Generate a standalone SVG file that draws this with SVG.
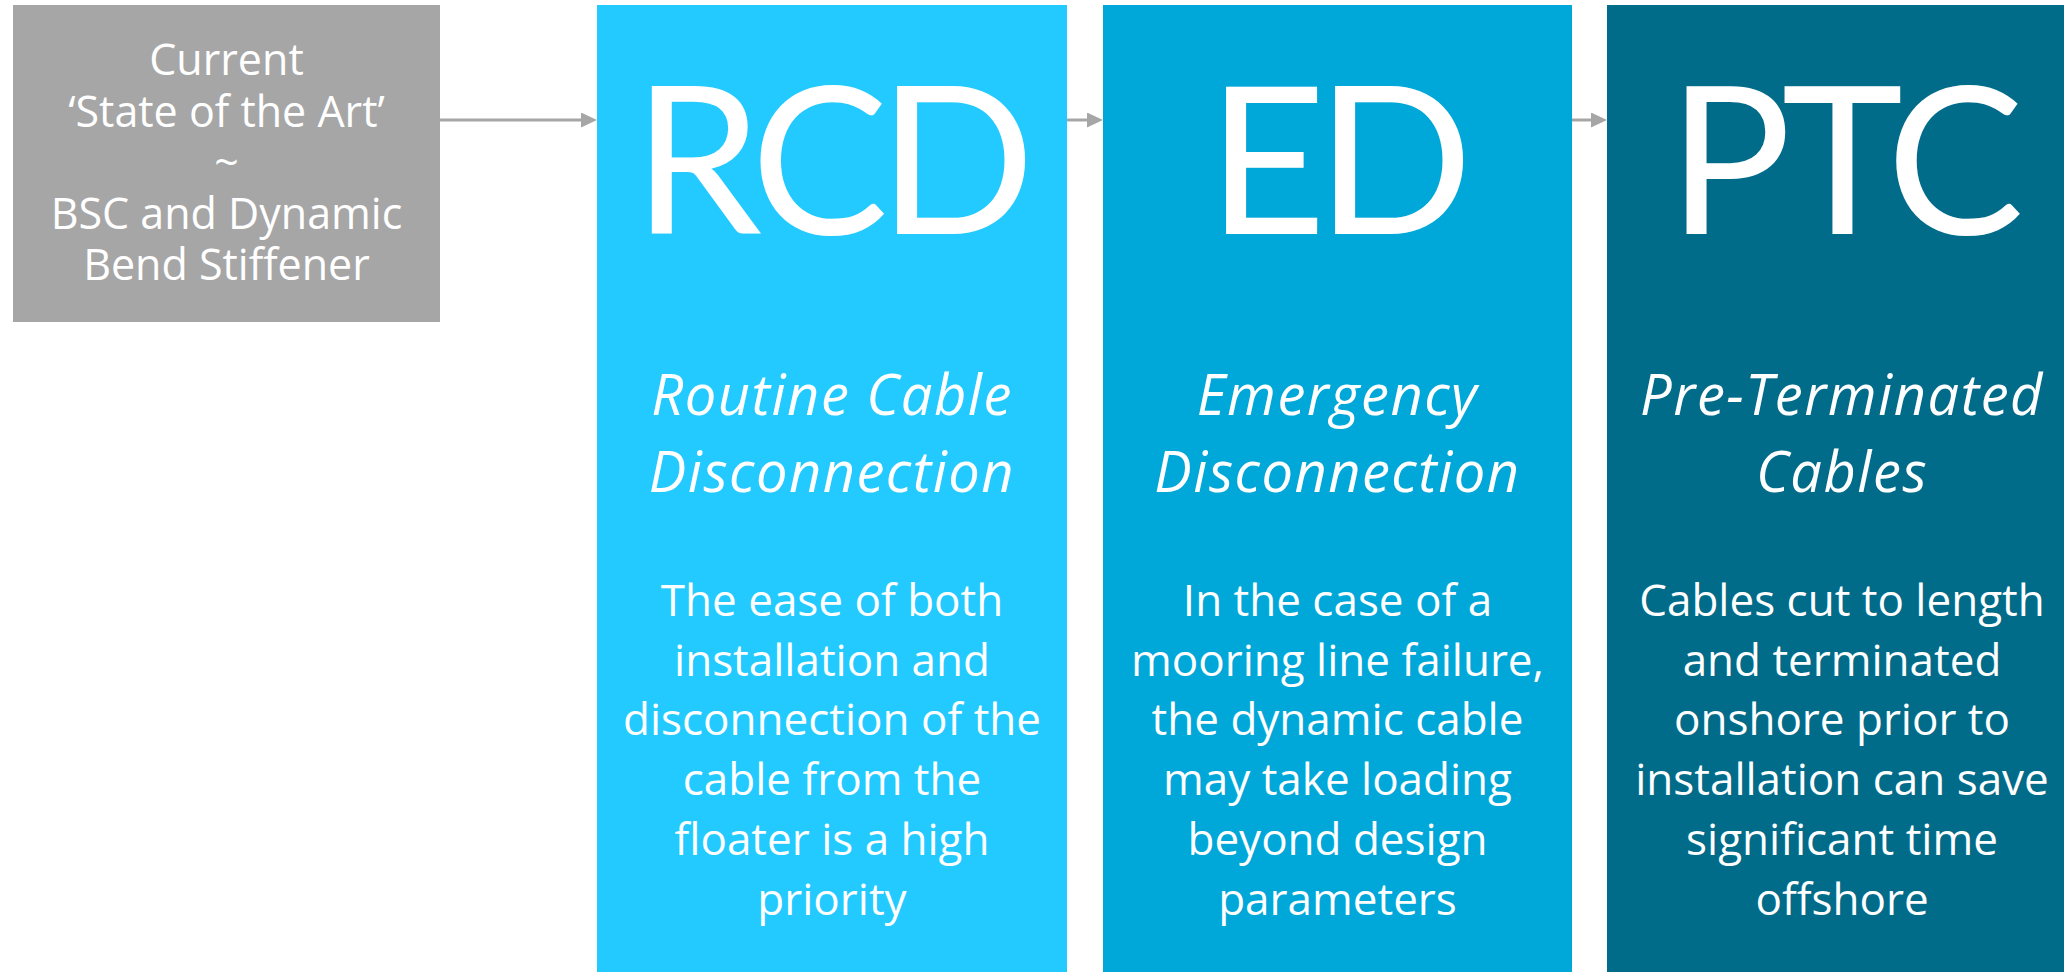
<svg xmlns="http://www.w3.org/2000/svg" width="2064" height="972" viewBox="0 0 2064 972">
  <style>
    .bg { fill: #ffffff; }
    .box-grey { fill: #a6a6a6; }
    .col-rcd { fill: #22caff; }
    .col-ed { fill: #00a7d9; }
    .col-ptc { fill: #016b8a; }
    text { fill: #ffffff; text-anchor: middle; }
    .intro { font-family: "Open Sans", "Noto Sans", sans-serif; font-size: 43px; }
    .acronym { font-family: Lato, "Open Sans", sans-serif; font-size: 206px; letter-spacing: -10px; }
    .title { font-family: "Open Sans", "Noto Sans", sans-serif; font-size: 56px; font-style: italic; letter-spacing: 1.5px; }
    .body { font-family: "Open Sans", "Noto Sans", sans-serif; font-size: 44px; }
    .link { stroke: #a6a6a6; stroke-width: 3; fill: none; marker-end: url(#head); }
  </style>
  <defs>
    <marker id="head" markerUnits="userSpaceOnUse" viewBox="0 0 16 15" markerWidth="16" markerHeight="15" refX="2" refY="7.5" orient="auto">
      <path d="M0,0 L16,7.5 L0,15 Z" fill="#a6a6a6"/>
    </marker>
  </defs>

  <rect class="bg" x="0" y="0" width="2064" height="972"/>

  <!-- starting point: existing technology -->
  <g id="state-of-the-art">
    <rect class="box-grey" x="13" y="5" width="427" height="317"/>
    <text class="intro"><tspan x="226.5" y="75">Current</tspan><tspan x="226.5" y="127">‘State of the Art’</tspan><tspan x="226.5" y="178">~</tspan><tspan x="226.5" y="229">BSC and Dynamic</tspan><tspan x="226.5" y="280">Bend Stiffener</tspan></text>
  </g>

  <!-- Routine Cable Disconnection -->
  <g id="rcd">
    <rect class="col-rcd" x="597" y="5" width="470" height="967"/>
    <text class="acronym" x="829" y="234">RCD</text>
    <text class="title"><tspan x="832" y="415">Routine Cable</tspan><tspan x="832" y="492">Disconnection</tspan></text>
    <text class="body"><tspan x="832" y="616">The ease of both</tspan><tspan x="832" y="676">installation and</tspan><tspan x="832" y="735">disconnection of the</tspan><tspan x="832" y="795">cable from the</tspan><tspan x="832" y="855">floater is a high</tspan><tspan x="832" y="915">priority</tspan></text>
  </g>

  <!-- Emergency Disconnection -->
  <g id="ed">
    <rect class="col-ed" x="1103" y="5" width="469" height="967"/>
    <text class="acronym" x="1335" y="234">ED</text>
    <text class="title"><tspan x="1337.5" y="415">Emergency</tspan><tspan x="1337.5" y="492">Disconnection</tspan></text>
    <text class="body"><tspan x="1337.5" y="616">In the case of a</tspan><tspan x="1337.5" y="676">mooring line failure,</tspan><tspan x="1337.5" y="735">the dynamic cable</tspan><tspan x="1337.5" y="795">may take loading</tspan><tspan x="1337.5" y="855">beyond design</tspan><tspan x="1337.5" y="915">parameters</tspan></text>
  </g>

  <!-- Pre-Terminated Cables -->
  <g id="ptc">
    <rect class="col-ptc" x="1607" y="5" width="470" height="967"/>
    <text class="acronym" x="1841" y="234">PTC</text>
    <text class="title"><tspan x="1842" y="415">Pre-Terminated</tspan><tspan x="1842" y="492">Cables</tspan></text>
    <text class="body"><tspan x="1842" y="616">Cables cut to length</tspan><tspan x="1842" y="676">and terminated</tspan><tspan x="1842" y="735">onshore prior to</tspan><tspan x="1842" y="795">installation can save</tspan><tspan x="1842" y="855">significant time</tspan><tspan x="1842" y="915">offshore</tspan></text>
  </g>

  <!-- progression arrows -->
  <g id="connectors">
    <line class="link" x1="440" y1="120" x2="583" y2="120"/>
    <line class="link" x1="1067" y1="120" x2="1089" y2="120"/>
    <line class="link" x1="1572" y1="120" x2="1593" y2="120"/>
  </g>
</svg>
